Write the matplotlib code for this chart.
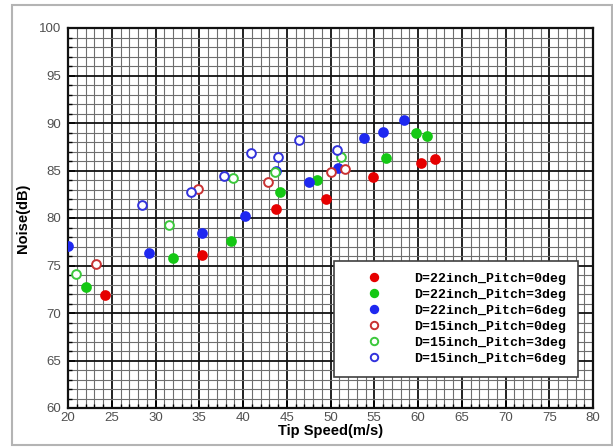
import numpy as np
import matplotlib
matplotlib.use("Agg")
import matplotlib.pyplot as plt
from matplotlib.patches import Rectangle
from matplotlib.ticker import MultipleLocator

# == 데이터 ==============================================================
d22_p0_x = [24.2, 35.3, 43.8, 49.5, 54.8, 60.3, 61.9]
d22_p0_y = [71.9, 76.1, 81.0, 82.0, 84.3, 85.8, 86.2]

d22_p3_x = [22.1, 32.0, 38.6, 44.2, 48.4, 56.3, 59.8, 61.0]
d22_p3_y = [72.7, 75.8, 77.6, 82.7, 84.0, 86.3, 89.0, 88.6]

d22_p6_x = [20.0, 29.3, 35.3, 40.2, 43.8, 47.5, 50.8, 53.8, 56.0, 58.4]
d22_p6_y = [77.1, 76.3, 78.4, 80.2, 85.0, 83.8, 85.3, 88.4, 89.1, 90.3]

d15_p0_x = [23.2, 34.8, 42.9, 50.1, 51.6]
d15_p0_y = [75.2, 83.1, 83.8, 84.8, 85.2]

d15_p3_x = [20.9, 31.5, 38.8, 43.6, 51.2]
d15_p3_y = [74.1, 79.3, 84.2, 84.8, 86.4]

d15_p6_x = [28.4, 34.1, 37.8, 40.9, 44.0, 46.4, 50.7]
d15_p6_y = [81.4, 82.7, 84.4, 86.8, 86.4, 88.2, 87.2]

labels = ["D=22inch_Pitch=0deg", "D=22inch_Pitch=3deg", "D=22inch_Pitch=6deg",
          "D=15inch_Pitch=0deg", "D=15inch_Pitch=3deg", "D=15inch_Pitch=6deg"]

# == 플롯 ======================================================================
plt.rcParams['font.family'] = ['Liberation Sans', 'DejaVu Sans']

fig = plt.figure(figsize=(6.13, 4.47), dpi=100)
ax = fig.add_axes([68/613, 1 - 408/447, 525/613, 380/447])

# 바깥 회색 테두리
fig.patches.append(Rectangle((12/613, 2/447), 600/613, 440/447, transform=fig.transFigure,
                             fill=False, edgecolor='#b4b4b4', lw=1.5))

ms = 6.3
series = [
    (d22_p0_x, d22_p0_y, '#e60000', True),
    (d22_p3_x, d22_p3_y, '#14c814', True),
    (d22_p6_x, d22_p6_y, '#1e28f0', True),
    (d15_p0_x, d15_p0_y, '#c83232', False),
    (d15_p3_x, d15_p3_y, '#3cc83c', False),
    (d15_p6_x, d15_p6_y, '#3232dc', False),
]
for (xs, ys, color, filled), label in zip(series, labels):
    ax.plot(xs, ys, linestyle='none', marker='o', markersize=ms,
            markerfacecolor=color if filled else 'white',
            markeredgecolor=color, markeredgewidth=1.4,
            label=label, zorder=3)

ax.set_xlim(20, 80)
ax.set_ylim(60, 100)
ax.xaxis.set_major_locator(MultipleLocator(5))
ax.xaxis.set_minor_locator(MultipleLocator(1))
ax.yaxis.set_major_locator(MultipleLocator(5))
ax.yaxis.set_minor_locator(MultipleLocator(1))
ax.grid(True, which='minor', color='#6e6e6e', lw=0.8)
ax.grid(True, which='major', color='#111111', lw=1.3)
ax.set_axisbelow(True)
for sp in ax.spines.values():
    sp.set_linewidth(1.6)
    sp.set_color('#111111')

ax.tick_params(which='major', direction='in', length=5, width=1.2,
               labelsize=9.5, labelcolor='#505050', pad=3)
ax.tick_params(which='minor', direction='in', length=3, width=1.0)
ax.tick_params(axis='y', which='major', pad=5)

ax.set_xlabel("Tip Speed(m/s)", fontsize=10.5, fontweight='bold', labelpad=0)
ax.set_ylabel("Noise(dB)", fontsize=10.5, fontweight='bold', labelpad=6)

leg = ax.legend(loc='upper right', bbox_to_anchor=(0.971, 0.387), borderaxespad=0,
                fancybox=False, edgecolor='#404040', framealpha=1,
                prop={'family': 'Liberation Mono', 'weight': 'bold', 'size': 9.5},
                handlelength=4.25, handletextpad=0.9, labelspacing=0.28,
                borderpad=0.9, numpoints=1, markerscale=0.85)
leg.get_frame().set_linewidth(1.2)
leg.set_zorder(5)

plt.savefig("out.png", dpi=100)
plt.close()
